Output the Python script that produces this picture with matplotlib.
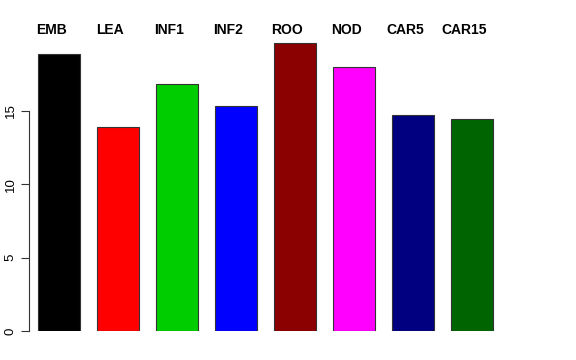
import matplotlib
matplotlib.use("Agg")
import matplotlib.pyplot as plt

categories = ["EMB", "LEA", "INF1", "INF2", "ROO", "NOD", "CAR5", "CAR15"]
values = [18.88, 13.9, 16.84, 15.34, 19.63, 18.03, 14.72, 14.45]
colors = ["#000000", "#FF0000", "#00CD00", "#0000FF", "#8B0000", "#FF00FF", "#000080", "#006400"]
yticks = [0, 5, 10, 15]

plt.rcParams['font.family'] = ['Liberation Sans', 'DejaVu Sans']
fig = plt.figure(figsize=(5.76, 3.6), dpi=100)
ax = fig.add_axes([29/576, 29/360, 531/576, 308/360])
x = list(range(len(categories)))
ax.bar(x, values, width=0.71, color=colors, edgecolor="#333333", linewidth=0.8)
ax.set_ylim(0, 21)
ax.set_xlim(-0.508, -0.508 + 531/59)
for s in ["top", "right", "bottom"]:
    ax.spines[s].set_visible(False)
ax.spines["left"].set_bounds(0, 15)
ax.spines["left"].set_linewidth(0.8)
ax.spines["left"].set_color("#333333")
ax.set_xticks([])
ax.set_yticks(yticks)
ax.set_yticklabels([str(t) for t in yticks], rotation=90, va="center", fontsize=9.5)
ax.tick_params(axis="y", length=6, width=0.8, color="#333333", pad=3)
for xi, lab in zip(x, categories):
    ax.text(xi - 0.135, 20.5, lab, ha="center", va="center", fontsize=10, fontweight="bold")
fig.savefig("out.png", dpi=100)
